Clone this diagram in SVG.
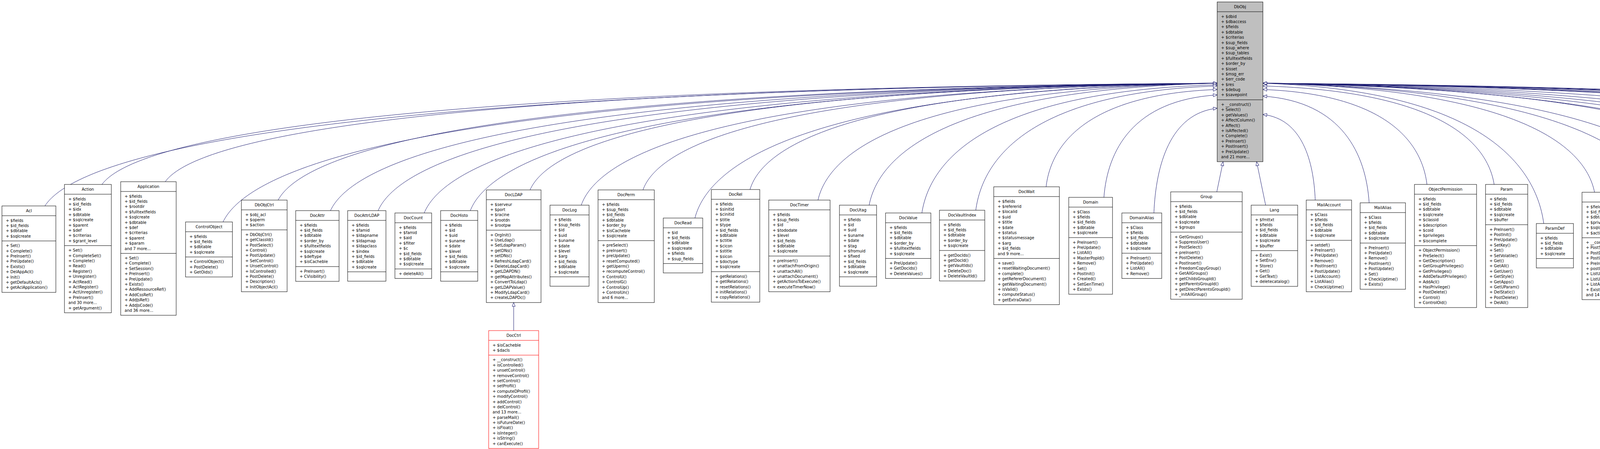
<svg xmlns="http://www.w3.org/2000/svg" width="6320" height="1149" viewBox="0 0 6320 1149">
<style>
.b{fill:#fff;stroke:#000;stroke-width:1}
.r{fill:#fff;stroke:#f00;stroke-width:1}
.g{fill:#bfbfbf;stroke:#000;stroke-width:1}
.s{stroke:#000;stroke-width:1;fill:none}
.sr{stroke:#f00;stroke-width:1;fill:none}
text{font-family:"DejaVu Sans","Liberation Sans",sans-serif;font-size:10px;fill:#000}
.t{text-anchor:middle}
.e{fill:none;stroke:#191970;stroke-width:1;marker-end:url(#a)}
</style>
<defs><marker id="a" markerUnits="userSpaceOnUse" markerWidth="12" markerHeight="9" refX="11" refY="4.5" orient="auto"><path d="M1,0.5 L11,4.5 L1,8.5 Z" fill="#fff" stroke="#191970"/></marker></defs>
<rect width="6320" height="1149" fill="#fff"/>
<g id="connectors">
<path class="e" d="M115,527 C205,386 865,229 3116,213"/>
<path class="e" d="M261,472 C347,355 975,226 3116,213"/>
<path class="e" d="M423,465 C504,352 1096,226 3116,213"/>
<path class="e" d="M571,568 C647,408 1207,231 3116,213"/>
<path class="e" d="M712,512 C784,377 1313,228 3116,213"/>
<path class="e" d="M846,539 C914,392 1414,229 3116,213"/>
<path class="e" d="M968,539 C1032,392 1505,229 3116,213"/>
<path class="e" d="M1086,545 C1147,396 1594,230 3116,213"/>
<path class="e" d="M1204,539 C1261,392 1682,229 3116,213"/>
<path class="e" d="M1357,486 C1410,363 1797,227 3116,213"/>
<path class="e" d="M1488,525 C1537,385 1895,229 3116,213"/>
<path class="e" d="M1646,486 C1690,363 2014,227 3116,213"/>
<path class="e" d="M1779,558 C1819,403 2113,230 3116,213"/>
<path class="e" d="M1920,485 C1956,363 2219,227 3116,213"/>
<path class="e" d="M2094,512 C2125,377 2350,228 3116,213"/>
<path class="e" d="M2225,525 C2252,385 2448,229 3116,213"/>
<path class="e" d="M2360,545 C2383,397 2549,233 3116,217"/>
<path class="e" d="M2498,538 C2517,395 2653,236 3116,220"/>
<path class="e" d="M2678,478 C2691,366 2788,241 3116,229"/>
<path class="e" d="M2826,505 C2835,387 2899,256 3116,243"/>
<path class="e" d="M2954,545 C2959,424 2995,290 3116,277"/>
<path class="e" d="M3115,491 L3131,414"/>
<path class="e" d="M3240,525 L3217,414"/>
<path class="e" d="M3367,512 C3363,413 3334,304 3233,293"/>
<path class="e" d="M3505,519 C3497,396 3437,260 3233,246"/>
<path class="e" d="M3653,472 C3640,363 3548,241 3233,229"/>
<path class="e" d="M3825,472 C3807,359 3677,233 3233,220"/>
<path class="e" d="M3952,572 C3930,410 3772,231 3233,213"/>
<path class="e" d="M4082,492 C4057,366 3870,227 3233,213"/>
<path class="e" d="M4255,532 C4224,388 3999,229 3233,213"/>
<path class="e" d="M4382,552 C4348,399 4095,230 3233,213"/>
<path class="e" d="M4522,485 C4483,363 4200,227 3233,213"/>
<path class="e" d="M4683,559 C4640,403 4321,230 3233,213"/>
<path class="e" d="M4811,565 C4764,407 4417,231 3233,213"/>
<path class="e" d="M4930,565 C4879,407 4506,231 3233,213"/>
<path class="e" d="M5060,559 C5005,403 4603,230 3233,213"/>
<path class="e" d="M5199,532 C5140,388 4708,229 3233,213"/>
<path class="e" d="M5328,486 C5265,363 4804,227 3233,213"/>
<path class="e" d="M5482,505 C5415,374 4920,228 3233,213"/>
<path class="e" d="M5627,519 C5555,381 5029,228 3233,213"/>
<path class="e" d="M5777,505 C5701,374 5141,228 3233,213"/>
<path class="e" d="M5928,479 C5847,359 5254,226 3233,213"/>
<path class="e" d="M6086,545 C6000,396 5373,230 3233,213"/>
<path class="e" d="M6253,559 C6162,403 5498,230 3233,213"/>
<path class="e" d="M1315,846 L1315,774"/>
<path class="e" d="M5528,958 L5620,740"/>
<path class="e" d="M5665,958 L5665,740"/>
<path class="e" d="M5816,958 L5815,753"/>
</g>

<g id="DbObj" transform="translate(3116,5)"><rect class="g" width="117" height="408.8"/><path class="s" d="M0,25H117M0,250.4H117"/><text class="t" x="58.5" y="16">DbObj</text>
<text y="40.5"><tspan x="10">+ $dbid</tspan><tspan x="10" dy="13.4">+ $dbaccess</tspan><tspan x="10" dy="13.4">+ $fields</tspan><tspan x="10" dy="13.4">+ $dbtable</tspan><tspan x="10" dy="13.4">+ $criterias</tspan><tspan x="10" dy="13.4">+ $sup_fields</tspan><tspan x="10" dy="13.4">+ $sup_where</tspan><tspan x="10" dy="13.4">+ $sup_tables</tspan><tspan x="10" dy="13.4">+ $fulltextfields</tspan><tspan x="10" dy="13.4">+ $order_by</tspan><tspan x="10" dy="13.4">+ $isset</tspan><tspan x="10" dy="13.4">+ $msg_err</tspan><tspan x="10" dy="13.4">+ $err_code</tspan><tspan x="10" dy="13.4">+ $res</tspan><tspan x="10" dy="13.4">+ $debug</tspan><tspan x="10" dy="13.4">+ $savepoint</tspan></text>
<text y="265.9"><tspan x="10">+ __construct()</tspan><tspan x="10" dy="13.4">+ Select()</tspan><tspan x="10" dy="13.4">+ getValues()</tspan><tspan x="10" dy="13.4">+ AffectColumn()</tspan><tspan x="10" dy="13.4">+ Affect()</tspan><tspan x="10" dy="13.4">+ isAffected()</tspan><tspan x="10" dy="13.4">+ Complete()</tspan><tspan x="10" dy="13.4">+ PreInsert()</tspan><tspan x="10" dy="13.4">+ PostInsert()</tspan><tspan x="10" dy="13.4">+ PreUpdate()</tspan><tspan x="10" dy="13.4">and 21 more...</tspan></text></g>

<g id="Acl" transform="translate(5,527)"><rect class="b" width="138" height="221.2"/><path class="s" d="M0,25H138M0,89.6H138"/><text class="t" x="69" y="16">Acl</text>
<text y="40.5"><tspan x="10">+ $fields</tspan><tspan x="10" dy="13.4">+ $id_fields</tspan><tspan x="10" dy="13.4">+ $dbtable</tspan><tspan x="10" dy="13.4">+ $sqlcreate</tspan></text>
<text y="105.1"><tspan x="10">+ Set()</tspan><tspan x="10" dy="13.4">+ Complete()</tspan><tspan x="10" dy="13.4">+ PreInsert()</tspan><tspan x="10" dy="13.4">+ PreUpdate()</tspan><tspan x="10" dy="13.4">+ Exists()</tspan><tspan x="10" dy="13.4">+ DelAppAcl()</tspan><tspan x="10" dy="13.4">+ Init()</tspan><tspan x="10" dy="13.4">+ getDefaultAcls()</tspan><tspan x="10" dy="13.4">+ getAclApplication()</tspan></text></g>

<g id="Action" transform="translate(165,472)"><rect class="b" width="120" height="328.4"/><path class="s" d="M0,25H120M0,156.6H120"/><text class="t" x="60" y="16">Action</text>
<text y="40.5"><tspan x="10">+ $fields</tspan><tspan x="10" dy="13.4">+ $id_fields</tspan><tspan x="10" dy="13.4">+ $idx</tspan><tspan x="10" dy="13.4">+ $dbtable</tspan><tspan x="10" dy="13.4">+ $sqlcreate</tspan><tspan x="10" dy="13.4">+ $parent</tspan><tspan x="10" dy="13.4">+ $def</tspan><tspan x="10" dy="13.4">+ $criterias</tspan><tspan x="10" dy="13.4">+ $grant_level</tspan></text>
<text y="172.1"><tspan x="10">+ Set()</tspan><tspan x="10" dy="13.4">+ CompleteSet()</tspan><tspan x="10" dy="13.4">+ Complete()</tspan><tspan x="10" dy="13.4">+ Read()</tspan><tspan x="10" dy="13.4">+ Register()</tspan><tspan x="10" dy="13.4">+ Unregister()</tspan><tspan x="10" dy="13.4">+ ActRead()</tspan><tspan x="10" dy="13.4">+ ActRegister()</tspan><tspan x="10" dy="13.4">+ ActUnregister()</tspan><tspan x="10" dy="13.4">+ PreInsert()</tspan><tspan x="10" dy="13.4">and 30 more...</tspan><tspan x="10" dy="13.4">+ getArgument()</tspan></text></g>

<g id="Application" transform="translate(309,465)"><rect class="b" width="142" height="341.8"/><path class="s" d="M0,25H142M0,183.4H142"/><text class="t" x="71" y="16">Application</text>
<text y="40.5"><tspan x="10">+ $fields</tspan><tspan x="10" dy="13.4">+ $id_fields</tspan><tspan x="10" dy="13.4">+ $rootdir</tspan><tspan x="10" dy="13.4">+ $fulltextfields</tspan><tspan x="10" dy="13.4">+ $sqlcreate</tspan><tspan x="10" dy="13.4">+ $dbtable</tspan><tspan x="10" dy="13.4">+ $def</tspan><tspan x="10" dy="13.4">+ $criterias</tspan><tspan x="10" dy="13.4">+ $parent</tspan><tspan x="10" dy="13.4">+ $param</tspan><tspan x="10" dy="13.4">and 7 more...</tspan></text>
<text y="198.9"><tspan x="10">+ Set()</tspan><tspan x="10" dy="13.4">+ Complete()</tspan><tspan x="10" dy="13.4">+ SetSession()</tspan><tspan x="10" dy="13.4">+ PreInsert()</tspan><tspan x="10" dy="13.4">+ PreUpdate()</tspan><tspan x="10" dy="13.4">+ Exists()</tspan><tspan x="10" dy="13.4">+ AddRessourceRef()</tspan><tspan x="10" dy="13.4">+ AddCssRef()</tspan><tspan x="10" dy="13.4">+ AddJsRef()</tspan><tspan x="10" dy="13.4">+ AddJsCode()</tspan><tspan x="10" dy="13.4">and 36 more...</tspan></text></g>

<g id="ControlObject" transform="translate(475,568)"><rect class="b" width="120" height="140.8"/><path class="s" d="M0,25H120M0,89.6H120"/><text class="t" x="60" y="16">ControlObject</text>
<text y="40.5"><tspan x="10">+ $fields</tspan><tspan x="10" dy="13.4">+ $id_fields</tspan><tspan x="10" dy="13.4">+ $dbtable</tspan><tspan x="10" dy="13.4">+ $sqlcreate</tspan></text>
<text y="105.1"><tspan x="10">+ ControlObject()</tspan><tspan x="10" dy="13.4">+ PostDelete()</tspan><tspan x="10" dy="13.4">+ GetOids()</tspan></text></g>

<g id="DbObjCtrl" transform="translate(618,512)"><rect class="b" width="117" height="234.6"/><path class="s" d="M0,25H117M0,76.2H117"/><text class="t" x="58.5" y="16">DbObjCtrl</text>
<text y="40.5"><tspan x="10">+ $obj_acl</tspan><tspan x="10" dy="13.4">+ $operm</tspan><tspan x="10" dy="13.4">+ $action</tspan></text>
<text y="91.7"><tspan x="10">+ DbObjCtrl()</tspan><tspan x="10" dy="13.4">+ getClassId()</tspan><tspan x="10" dy="13.4">+ PostSelect()</tspan><tspan x="10" dy="13.4">+ Control()</tspan><tspan x="10" dy="13.4">+ PostUpdate()</tspan><tspan x="10" dy="13.4">+ SetControl()</tspan><tspan x="10" dy="13.4">+ UnsetControl()</tspan><tspan x="10" dy="13.4">+ IsControlled()</tspan><tspan x="10" dy="13.4">+ PostDelete()</tspan><tspan x="10" dy="13.4">+ Description()</tspan><tspan x="10" dy="13.4">+ InitObjectAcl()</tspan></text></g>

<g id="DocAttr" transform="translate(757,539)"><rect class="b" width="111" height="181"/><path class="s" d="M0,25H111M0,143.2H111"/><text class="t" x="55.5" y="16">DocAttr</text>
<text y="40.5"><tspan x="10">+ $fields</tspan><tspan x="10" dy="13.4">+ $id_fields</tspan><tspan x="10" dy="13.4">+ $dbtable</tspan><tspan x="10" dy="13.4">+ $order_by</tspan><tspan x="10" dy="13.4">+ $fulltextfields</tspan><tspan x="10" dy="13.4">+ $sqlcreate</tspan><tspan x="10" dy="13.4">+ $deftype</tspan><tspan x="10" dy="13.4">+ $isCacheble</tspan></text>
<text y="158.7"><tspan x="10">+ PreInsert()</tspan><tspan x="10" dy="13.4">+ CVisibility()</tspan></text></g>

<g id="DocAttrLDAP" transform="translate(890,539)"><rect class="b" width="98" height="180.6"/><path class="s" d="M0,25H98M0,156.6H98"/><text class="t" x="49" y="16">DocAttrLDAP</text>
<text y="40.5"><tspan x="10">+ $fields</tspan><tspan x="10" dy="13.4">+ $famid</tspan><tspan x="10" dy="13.4">+ $ldapname</tspan><tspan x="10" dy="13.4">+ $ldapmap</tspan><tspan x="10" dy="13.4">+ $ldapclass</tspan><tspan x="10" dy="13.4">+ $index</tspan><tspan x="10" dy="13.4">+ $id_fields</tspan><tspan x="10" dy="13.4">+ $dbtable</tspan><tspan x="10" dy="13.4">+ $sqlcreate</tspan></text></g>

<g id="DocCount" transform="translate(1011,545)"><rect class="b" width="94" height="167.6"/><path class="s" d="M0,25H94M0,143.2H94"/><text class="t" x="47" y="16">DocCount</text>
<text y="40.5"><tspan x="10">+ $fields</tspan><tspan x="10" dy="13.4">+ $famid</tspan><tspan x="10" dy="13.4">+ $aid</tspan><tspan x="10" dy="13.4">+ $filter</tspan><tspan x="10" dy="13.4">+ $c</tspan><tspan x="10" dy="13.4">+ $id_fields</tspan><tspan x="10" dy="13.4">+ $dbtable</tspan><tspan x="10" dy="13.4">+ $sqlcreate</tspan></text>
<text y="158.7"><tspan x="10">+ deleteAll()</tspan></text></g>

<g id="DocHisto" transform="translate(1128,539)"><rect class="b" width="95" height="180.6"/><path class="s" d="M0,25H95M0,156.6H95"/><text class="t" x="47.5" y="16">DocHisto</text>
<text y="40.5"><tspan x="10">+ $fields</tspan><tspan x="10" dy="13.4">+ $id</tspan><tspan x="10" dy="13.4">+ $uid</tspan><tspan x="10" dy="13.4">+ $uname</tspan><tspan x="10" dy="13.4">+ $date</tspan><tspan x="10" dy="13.4">+ $level</tspan><tspan x="10" dy="13.4">+ $id_fields</tspan><tspan x="10" dy="13.4">+ $dbtable</tspan><tspan x="10" dy="13.4">+ $sqlcreate</tspan></text></g>

<g id="DocLDAP" transform="translate(1245,486)"><rect class="b" width="140" height="288.2"/><path class="s" d="M0,25H140M0,103H140"/><text class="t" x="70" y="16">DocLDAP</text>
<text y="40.5"><tspan x="10">+ $serveur</tspan><tspan x="10" dy="13.4">+ $port</tspan><tspan x="10" dy="13.4">+ $racine</tspan><tspan x="10" dy="13.4">+ $rootdn</tspan><tspan x="10" dy="13.4">+ $rootpw</tspan></text>
<text y="118.5"><tspan x="10">+ OrgInit()</tspan><tspan x="10" dy="13.4">+ UseLdap()</tspan><tspan x="10" dy="13.4">+ SetLdapParam()</tspan><tspan x="10" dy="13.4">+ getDNs()</tspan><tspan x="10" dy="13.4">+ setDNs()</tspan><tspan x="10" dy="13.4">+ RefreshLdapCard()</tspan><tspan x="10" dy="13.4">+ DeleteLdapCard()</tspan><tspan x="10" dy="13.4">+ getLDAPDN()</tspan><tspan x="10" dy="13.4">+ getMapAttributes()</tspan><tspan x="10" dy="13.4">+ ConvertToLdap()</tspan><tspan x="10" dy="13.4">+ getLDAPValue()</tspan><tspan x="10" dy="13.4">+ ModifyLdapCard()</tspan><tspan x="10" dy="13.4">+ createLDAPDc()</tspan></text></g>

<g id="DocCtrl" transform="translate(1251,846)"><rect class="r" width="128" height="301.6"/><path class="sr" d="M0,25H128M0,62.8H128"/><text class="t" x="64" y="16">DocCtrl</text>
<text y="40.5"><tspan x="10">+ $isCacheble</tspan><tspan x="10" dy="13.4">+ $dacls</tspan></text>
<text y="78.3"><tspan x="10">+ __construct()</tspan><tspan x="10" dy="13.4">+ isControlled()</tspan><tspan x="10" dy="13.4">+ unsetControl()</tspan><tspan x="10" dy="13.4">+ removeControl()</tspan><tspan x="10" dy="13.4">+ setControl()</tspan><tspan x="10" dy="13.4">+ setProfil()</tspan><tspan x="10" dy="13.4">+ computeDProfil()</tspan><tspan x="10" dy="13.4">+ modifyControl()</tspan><tspan x="10" dy="13.4">+ addControl()</tspan><tspan x="10" dy="13.4">+ delControl()</tspan><tspan x="10" dy="13.4">and 13 more...</tspan><tspan x="10" dy="13.4">+ parseMail()</tspan><tspan x="10" dy="13.4">+ isFutureDate()</tspan><tspan x="10" dy="13.4">+ isFloat()</tspan><tspan x="10" dy="13.4">+ isInteger()</tspan><tspan x="10" dy="13.4">+ isString()</tspan><tspan x="10" dy="13.4">+ canExecute()</tspan></text></g>

<g id="DocLog" transform="translate(1408,525)"><rect class="b" width="100" height="207.4"/><path class="s" d="M0,25H100M0,183.4H100"/><text class="t" x="50" y="16">DocLog</text>
<text y="40.5"><tspan x="10">+ $fields</tspan><tspan x="10" dy="13.4">+ $sup_fields</tspan><tspan x="10" dy="13.4">+ $id</tspan><tspan x="10" dy="13.4">+ $uid</tspan><tspan x="10" dy="13.4">+ $uname</tspan><tspan x="10" dy="13.4">+ $date</tspan><tspan x="10" dy="13.4">+ $level</tspan><tspan x="10" dy="13.4">+ $arg</tspan><tspan x="10" dy="13.4">+ $id_fields</tspan><tspan x="10" dy="13.4">+ $dbtable</tspan><tspan x="10" dy="13.4">+ $sqlcreate</tspan></text></g>

<g id="DocPerm" transform="translate(1531,486)"><rect class="b" width="144" height="288.2"/><path class="s" d="M0,25H144M0,129.8H144"/><text class="t" x="72" y="16">DocPerm</text>
<text y="40.5"><tspan x="10">+ $fields</tspan><tspan x="10" dy="13.4">+ $sup_fields</tspan><tspan x="10" dy="13.4">+ $id_fields</tspan><tspan x="10" dy="13.4">+ $dbtable</tspan><tspan x="10" dy="13.4">+ $order_by</tspan><tspan x="10" dy="13.4">+ $isCacheble</tspan><tspan x="10" dy="13.4">+ $sqlcreate</tspan></text>
<text y="145.3"><tspan x="10">+ preSelect()</tspan><tspan x="10" dy="13.4">+ preInsert()</tspan><tspan x="10" dy="13.4">+ preUpdate()</tspan><tspan x="10" dy="13.4">+ resetComputed()</tspan><tspan x="10" dy="13.4">+ getUperm()</tspan><tspan x="10" dy="13.4">+ recomputeControl()</tspan><tspan x="10" dy="13.4">+ ControlU()</tspan><tspan x="10" dy="13.4">+ ControlG()</tspan><tspan x="10" dy="13.4">+ ControlUp()</tspan><tspan x="10" dy="13.4">+ ControlUn()</tspan><tspan x="10" dy="13.4">and 6 more...</tspan></text></g>

<g id="DocRead" transform="translate(1698,558)"><rect class="b" width="101" height="140.4"/><path class="s" d="M0,25H101M0,116.4H101"/><text class="t" x="50.5" y="16">DocRead</text>
<text y="40.5"><tspan x="10">+ $id</tspan><tspan x="10" dy="13.4">+ $id_fields</tspan><tspan x="10" dy="13.4">+ $dbtable</tspan><tspan x="10" dy="13.4">+ $sqlcreate</tspan><tspan x="10" dy="13.4">+ $fields</tspan><tspan x="10" dy="13.4">+ $sup_fields</tspan></text></g>

<g id="DocRel" transform="translate(1821,485)"><rect class="b" width="124" height="288.2"/><path class="s" d="M0,25H124M0,210.2H124"/><text class="t" x="62" y="16">DocRel</text>
<text y="40.5"><tspan x="10">+ $fields</tspan><tspan x="10" dy="13.4">+ $sinitid</tspan><tspan x="10" dy="13.4">+ $cinitid</tspan><tspan x="10" dy="13.4">+ $title</tspan><tspan x="10" dy="13.4">+ $type</tspan><tspan x="10" dy="13.4">+ $id_fields</tspan><tspan x="10" dy="13.4">+ $dbtable</tspan><tspan x="10" dy="13.4">+ $ctitle</tspan><tspan x="10" dy="13.4">+ $cicon</tspan><tspan x="10" dy="13.4">+ $stitle</tspan><tspan x="10" dy="13.4">+ $sicon</tspan><tspan x="10" dy="13.4">+ $doctype</tspan><tspan x="10" dy="13.4">+ $sqlcreate</tspan></text>
<text y="225.7"><tspan x="10">+ getRelations()</tspan><tspan x="10" dy="13.4">+ getIRelations()</tspan><tspan x="10" dy="13.4">+ resetRelations()</tspan><tspan x="10" dy="13.4">+ initRelations()</tspan><tspan x="10" dy="13.4">+ copyRelations()</tspan></text></g>

<g id="DocTimer" transform="translate(1968,512)"><rect class="b" width="157" height="234.6"/><path class="s" d="M0,25H157M0,143.2H157"/><text class="t" x="78.5" y="16">DocTimer</text>
<text y="40.5"><tspan x="10">+ $fields</tspan><tspan x="10" dy="13.4">+ $sup_fields</tspan><tspan x="10" dy="13.4">+ $id</tspan><tspan x="10" dy="13.4">+ $tododate</tspan><tspan x="10" dy="13.4">+ $level</tspan><tspan x="10" dy="13.4">+ $id_fields</tspan><tspan x="10" dy="13.4">+ $dbtable</tspan><tspan x="10" dy="13.4">+ $sqlcreate</tspan></text>
<text y="158.7"><tspan x="10">+ preInsert()</tspan><tspan x="10" dy="13.4">+ unattachFromOrigin()</tspan><tspan x="10" dy="13.4">+ unattachAll()</tspan><tspan x="10" dy="13.4">+ unattachDocument()</tspan><tspan x="10" dy="13.4">+ getActionsToExecute()</tspan><tspan x="10" dy="13.4">+ executeTimerNow()</tspan></text></g>

<g id="DocUtag" transform="translate(2149,525)"><rect class="b" width="95" height="207.4"/><path class="s" d="M0,25H95M0,183.4H95"/><text class="t" x="47.5" y="16">DocUtag</text>
<text y="40.5"><tspan x="10">+ $fields</tspan><tspan x="10" dy="13.4">+ $id</tspan><tspan x="10" dy="13.4">+ $uid</tspan><tspan x="10" dy="13.4">+ $uname</tspan><tspan x="10" dy="13.4">+ $date</tspan><tspan x="10" dy="13.4">+ $tag</tspan><tspan x="10" dy="13.4">+ $fromuid</tspan><tspan x="10" dy="13.4">+ $fixed</tspan><tspan x="10" dy="13.4">+ $id_fields</tspan><tspan x="10" dy="13.4">+ $dbtable</tspan><tspan x="10" dy="13.4">+ $sqlcreate</tspan></text></g>

<g id="DocValue" transform="translate(2267,545)"><rect class="b" width="116" height="167.6"/><path class="s" d="M0,25H116M0,116.4H116"/><text class="t" x="58" y="16">DocValue</text>
<text y="40.5"><tspan x="10">+ $fields</tspan><tspan x="10" dy="13.4">+ $id_fields</tspan><tspan x="10" dy="13.4">+ $dbtable</tspan><tspan x="10" dy="13.4">+ $order_by</tspan><tspan x="10" dy="13.4">+ $fulltextfields</tspan><tspan x="10" dy="13.4">+ $sqlcreate</tspan></text>
<text y="131.9"><tspan x="10">+ PreUpdate()</tspan><tspan x="10" dy="13.4">+ GetDocids()</tspan><tspan x="10" dy="13.4">+ DeleteValues()</tspan></text></g>

<g id="DocVaultIndex" transform="translate(2405,538)"><rect class="b" width="116" height="181"/><path class="s" d="M0,25H116M0,103H116"/><text class="t" x="58" y="16">DocVaultIndex</text>
<text y="40.5"><tspan x="10">+ $fields</tspan><tspan x="10" dy="13.4">+ $id_fields</tspan><tspan x="10" dy="13.4">+ $dbtable</tspan><tspan x="10" dy="13.4">+ $order_by</tspan><tspan x="10" dy="13.4">+ $sqlcreate</tspan></text>
<text y="118.5"><tspan x="10">+ getDocIds()</tspan><tspan x="10" dy="13.4">+ getDocId()</tspan><tspan x="10" dy="13.4">+ getVaultIds()</tspan><tspan x="10" dy="13.4">+ DeleteDoc()</tspan><tspan x="10" dy="13.4">+ DeleteVaultId()</tspan></text></g>

<g id="DocWait" transform="translate(2544,478)"><rect class="b" width="168" height="301.6"/><path class="s" d="M0,25H168M0,183.4H168"/><text class="t" x="84" y="16">DocWait</text>
<text y="40.5"><tspan x="10">+ $fields</tspan><tspan x="10" dy="13.4">+ $refererid</tspan><tspan x="10" dy="13.4">+ $localid</tspan><tspan x="10" dy="13.4">+ $uid</tspan><tspan x="10" dy="13.4">+ $title</tspan><tspan x="10" dy="13.4">+ $date</tspan><tspan x="10" dy="13.4">+ $status</tspan><tspan x="10" dy="13.4">+ $statusmessage</tspan><tspan x="10" dy="13.4">+ $arg</tspan><tspan x="10" dy="13.4">+ $id_fields</tspan><tspan x="10" dy="13.4">and 9 more...</tspan></text>
<text y="198.9"><tspan x="10">+ save()</tspan><tspan x="10" dy="13.4">+ resetWaitingDocument()</tspan><tspan x="10" dy="13.4">+ complete()</tspan><tspan x="10" dy="13.4">+ getRefererDocument()</tspan><tspan x="10" dy="13.4">+ getWaitingDocument()</tspan><tspan x="10" dy="13.4">+ isValid()</tspan><tspan x="10" dy="13.4">+ computeStatus()</tspan><tspan x="10" dy="13.4">+ getExtraData()</tspan></text></g>

<g id="Domain" transform="translate(2736,505)"><rect class="b" width="112" height="248"/><path class="s" d="M0,25H112M0,103H112"/><text class="t" x="56" y="16">Domain</text>
<text y="40.5"><tspan x="10">+ $Class</tspan><tspan x="10" dy="13.4">+ $fields</tspan><tspan x="10" dy="13.4">+ $id_fields</tspan><tspan x="10" dy="13.4">+ $dbtable</tspan><tspan x="10" dy="13.4">+ $sqlcreate</tspan></text>
<text y="118.5"><tspan x="10">+ PreInsert()</tspan><tspan x="10" dy="13.4">+ PreUpdate()</tspan><tspan x="10" dy="13.4">+ ListAll()</tspan><tspan x="10" dy="13.4">+ MasterPopId()</tspan><tspan x="10" dy="13.4">+ Remove()</tspan><tspan x="10" dy="13.4">+ Set()</tspan><tspan x="10" dy="13.4">+ PostInit()</tspan><tspan x="10" dy="13.4">+ Created()</tspan><tspan x="10" dy="13.4">+ SetGenTime()</tspan><tspan x="10" dy="13.4">+ Exists()</tspan></text></g>

<g id="DomainAlias" transform="translate(2872,545)"><rect class="b" width="102" height="167.6"/><path class="s" d="M0,25H102M0,103H102"/><text class="t" x="51" y="16">DomainAlias</text>
<text y="40.5"><tspan x="10">+ $Class</tspan><tspan x="10" dy="13.4">+ $fields</tspan><tspan x="10" dy="13.4">+ $id_fields</tspan><tspan x="10" dy="13.4">+ $dbtable</tspan><tspan x="10" dy="13.4">+ $sqlcreate</tspan></text>
<text y="118.5"><tspan x="10">+ PreInsert()</tspan><tspan x="10" dy="13.4">+ PreUpdate()</tspan><tspan x="10" dy="13.4">+ ListAll()</tspan><tspan x="10" dy="13.4">+ Remove()</tspan></text></g>

<g id="Group" transform="translate(2997,491)"><rect class="b" width="183" height="274.8"/><path class="s" d="M0,25H183M0,103H183"/><text class="t" x="91.5" y="16">Group</text>
<text y="40.5"><tspan x="10">+ $fields</tspan><tspan x="10" dy="13.4">+ $id_fields</tspan><tspan x="10" dy="13.4">+ $dbtable</tspan><tspan x="10" dy="13.4">+ $sqlcreate</tspan><tspan x="10" dy="13.4">+ $groups</tspan></text>
<text y="118.5"><tspan x="10">+ GetGroups()</tspan><tspan x="10" dy="13.4">+ SuppressUser()</tspan><tspan x="10" dy="13.4">+ PostSelect()</tspan><tspan x="10" dy="13.4">+ preInsert()</tspan><tspan x="10" dy="13.4">+ PostDelete()</tspan><tspan x="10" dy="13.4">+ PostInsert()</tspan><tspan x="10" dy="13.4">+ FreedomCopyGroup()</tspan><tspan x="10" dy="13.4">+ GetAllGroups()</tspan><tspan x="10" dy="13.4">+ getChildsGroupId()</tspan><tspan x="10" dy="13.4">+ getParentsGroupId()</tspan><tspan x="10" dy="13.4">+ getDirectParentsGroupId()</tspan><tspan x="10" dy="13.4">+ _initAllGroup()</tspan></text></g>

<g id="Lang" transform="translate(3203,525)"><rect class="b" width="119" height="207.8"/><path class="s" d="M0,25H119M0,116.4H119"/><text class="t" x="59.5" y="16">Lang</text>
<text y="40.5"><tspan x="10">+ $fmttxt</tspan><tspan x="10" dy="13.4">+ $fields</tspan><tspan x="10" dy="13.4">+ $id_fields</tspan><tspan x="10" dy="13.4">+ $dbtable</tspan><tspan x="10" dy="13.4">+ $sqlcreate</tspan><tspan x="10" dy="13.4">+ $buffer</tspan></text>
<text y="131.9"><tspan x="10">+ Exist()</tspan><tspan x="10" dy="13.4">+ SetEnv()</tspan><tspan x="10" dy="13.4">+ Store()</tspan><tspan x="10" dy="13.4">+ Get()</tspan><tspan x="10" dy="13.4">+ GetText()</tspan><tspan x="10" dy="13.4">+ deletecatalog()</tspan></text></g>

<g id="MailAccount" transform="translate(3344,512)"><rect class="b" width="116" height="234.6"/><path class="s" d="M0,25H116M0,103H116"/><text class="t" x="58" y="16">MailAccount</text>
<text y="40.5"><tspan x="10">+ $Class</tspan><tspan x="10" dy="13.4">+ $fields</tspan><tspan x="10" dy="13.4">+ $id_fields</tspan><tspan x="10" dy="13.4">+ $dbtable</tspan><tspan x="10" dy="13.4">+ $sqlcreate</tspan></text>
<text y="118.5"><tspan x="10">+ setdef()</tspan><tspan x="10" dy="13.4">+ PreInsert()</tspan><tspan x="10" dy="13.4">+ PreUpdate()</tspan><tspan x="10" dy="13.4">+ Remove()</tspan><tspan x="10" dy="13.4">+ PostInsert()</tspan><tspan x="10" dy="13.4">+ PostUpdate()</tspan><tspan x="10" dy="13.4">+ ListAccount()</tspan><tspan x="10" dy="13.4">+ ListAlias()</tspan><tspan x="10" dy="13.4">+ CheckUptime()</tspan></text></g>

<g id="MailAlias" transform="translate(3482,519)"><rect class="b" width="116" height="221.2"/><path class="s" d="M0,25H116M0,103H116"/><text class="t" x="58" y="16">MailAlias</text>
<text y="40.5"><tspan x="10">+ $Class</tspan><tspan x="10" dy="13.4">+ $fields</tspan><tspan x="10" dy="13.4">+ $id_fields</tspan><tspan x="10" dy="13.4">+ $dbtable</tspan><tspan x="10" dy="13.4">+ $sqlcreate</tspan></text>
<text y="118.5"><tspan x="10">+ PreInsert()</tspan><tspan x="10" dy="13.4">+ PreUpdate()</tspan><tspan x="10" dy="13.4">+ Remove()</tspan><tspan x="10" dy="13.4">+ PostInsert()</tspan><tspan x="10" dy="13.4">+ PostUpdate()</tspan><tspan x="10" dy="13.4">+ Set()</tspan><tspan x="10" dy="13.4">+ CheckUptime()</tspan><tspan x="10" dy="13.4">+ Exists()</tspan></text></g>

<g id="ObjectPermission" transform="translate(3621,472)"><rect class="b" width="159" height="315"/><path class="s" d="M0,25H159M0,156.6H159"/><text class="t" x="79.5" y="16">ObjectPermission</text>
<text y="40.5"><tspan x="10">+ $fields</tspan><tspan x="10" dy="13.4">+ $id_fields</tspan><tspan x="10" dy="13.4">+ $dbtable</tspan><tspan x="10" dy="13.4">+ $sqlcreate</tspan><tspan x="10" dy="13.4">+ $classid</tspan><tspan x="10" dy="13.4">+ $description</tspan><tspan x="10" dy="13.4">+ $coid</tspan><tspan x="10" dy="13.4">+ $privileges</tspan><tspan x="10" dy="13.4">+ $iscomplete</tspan></text>
<text y="172.1"><tspan x="10">+ ObjectPermission()</tspan><tspan x="10" dy="13.4">+ PreSelect()</tspan><tspan x="10" dy="13.4">+ GetDescription()</tspan><tspan x="10" dy="13.4">+ GetGroupPrivileges()</tspan><tspan x="10" dy="13.4">+ GetPrivileges()</tspan><tspan x="10" dy="13.4">+ AddDefaultPrivileges()</tspan><tspan x="10" dy="13.4">+ AddAcl()</tspan><tspan x="10" dy="13.4">+ HasPrivilege()</tspan><tspan x="10" dy="13.4">+ PostDelete()</tspan><tspan x="10" dy="13.4">+ Control()</tspan><tspan x="10" dy="13.4">+ ControlOid()</tspan></text></g>

<g id="Param" transform="translate(3803,472)"><rect class="b" width="108" height="315"/><path class="s" d="M0,25H108M0,103H108"/><text class="t" x="54" y="16">Param</text>
<text y="40.5"><tspan x="10">+ $fields</tspan><tspan x="10" dy="13.4">+ $id_fields</tspan><tspan x="10" dy="13.4">+ $dbtable</tspan><tspan x="10" dy="13.4">+ $sqlcreate</tspan><tspan x="10" dy="13.4">+ $buffer</tspan></text>
<text y="118.5"><tspan x="10">+ PreInsert()</tspan><tspan x="10" dy="13.4">+ PostInit()</tspan><tspan x="10" dy="13.4">+ PreUpdate()</tspan><tspan x="10" dy="13.4">+ SetKey()</tspan><tspan x="10" dy="13.4">+ Set()</tspan><tspan x="10" dy="13.4">+ SetVolatile()</tspan><tspan x="10" dy="13.4">+ Get()</tspan><tspan x="10" dy="13.4">+ GetAll()</tspan><tspan x="10" dy="13.4">+ GetUser()</tspan><tspan x="10" dy="13.4">+ GetStyle()</tspan><tspan x="10" dy="13.4">+ GetApps()</tspan><tspan x="10" dy="13.4">+ GetUParam()</tspan><tspan x="10" dy="13.4">+ DelStatic()</tspan><tspan x="10" dy="13.4">+ PostDelete()</tspan><tspan x="10" dy="13.4">+ DelAll()</tspan></text></g>

<g id="ParamDef" transform="translate(3933,572)"><rect class="b" width="95" height="113.6"/><path class="s" d="M0,25H95M0,89.6H95"/><text class="t" x="47.5" y="16">ParamDef</text>
<text y="40.5"><tspan x="10">+ $fields</tspan><tspan x="10" dy="13.4">+ $id_fields</tspan><tspan x="10" dy="13.4">+ $dbtable</tspan><tspan x="10" dy="13.4">+ $sqlcreate</tspan></text></g>

<g id="Permission" transform="translate(4050,492)"><rect class="b" width="161" height="274.8"/><path class="s" d="M0,25H161M0,116.4H161"/><text class="t" x="80.5" y="16">Permission</text>
<text y="40.5"><tspan x="10">+ $fields</tspan><tspan x="10" dy="13.4">+ $id_fields</tspan><tspan x="10" dy="13.4">+ $dbtable</tspan><tspan x="10" dy="13.4">+ $privileges</tspan><tspan x="10" dy="13.4">+ $sqlcreate</tspan><tspan x="10" dy="13.4">+ $actions</tspan></text>
<text y="131.9"><tspan x="10">+ __construct()</tspan><tspan x="10" dy="13.4">+ PostSelect()</tspan><tspan x="10" dy="13.4">+ PostDelete()</tspan><tspan x="10" dy="13.4">+ PostUpdate()</tspan><tspan x="10" dy="13.4">+ PreInsert()</tspan><tspan x="10" dy="13.4">+ postInsert()</tspan><tspan x="10" dy="13.4">+ ListUserPermissions()</tspan><tspan x="10" dy="13.4">+ ListUserApplications()</tspan><tspan x="10" dy="13.4">+ ListApplicationUsers()</tspan><tspan x="10" dy="13.4">+ Exists()</tspan><tspan x="10" dy="13.4">and 14 more...</tspan></text></g>

<g id="Pop" transform="translate(4235,532)"><rect class="b" width="101" height="194.4"/><path class="s" d="M0,25H101M0,103H101"/><text class="t" x="50.5" y="16">Pop</text>
<text y="40.5"><tspan x="10">+ $Class</tspan><tspan x="10" dy="13.4">+ $fields</tspan><tspan x="10" dy="13.4">+ $id_fields</tspan><tspan x="10" dy="13.4">+ $dbtable</tspan><tspan x="10" dy="13.4">+ $sqlcreate</tspan></text>
<text y="118.5"><tspan x="10">+ PreInsert()</tspan><tspan x="10" dy="13.4">+ PreUpdate()</tspan><tspan x="10" dy="13.4">+ GetMaster()</tspan><tspan x="10" dy="13.4">+ GetSlaves()</tspan><tspan x="10" dy="13.4">+ GetAll()</tspan><tspan x="10" dy="13.4">+ Set()</tspan></text></g>

<g id="QueryDir" transform="translate(4360,552)"><rect class="b" width="110" height="154.2"/><path class="s" d="M0,25H110M0,116.4H110"/><text class="t" x="55" y="16">QueryDir</text>
<text y="40.5"><tspan x="10">+ $fields</tspan><tspan x="10" dy="13.4">+ $id_fields</tspan><tspan x="10" dy="13.4">+ $dbtable</tspan><tspan x="10" dy="13.4">+ $order_by</tspan><tspan x="10" dy="13.4">+ $fulltextfields</tspan><tspan x="10" dy="13.4">+ $sqlcreate</tspan></text>
<text y="131.9"><tspan x="10">+ PreInsert()</tspan><tspan x="10" dy="13.4">+ Exists()</tspan></text></g>

<g id="Session" transform="translate(4493,485)"><rect class="b" width="144" height="288.2"/><path class="s" d="M0,25H144M0,129.8H144"/><text class="t" x="72" y="16">Session</text>
<text y="40.5"><tspan x="10">+ $fields</tspan><tspan x="10" dy="13.4">+ $id_fields</tspan><tspan x="10" dy="13.4">+ $dbtable</tspan><tspan x="10" dy="13.4">+ $sqlcreate</tspan><tspan x="10" dy="13.4">+ $isCacheble</tspan><tspan x="10" dy="13.4">+ $sessiondb</tspan><tspan x="10" dy="13.4">+ $session_name</tspan></text>
<text y="145.3"><tspan x="10">+ __construct()</tspan><tspan x="10" dy="13.4">+ Set()</tspan><tspan x="10" dy="13.4">+ setCookieSession()</tspan><tspan x="10" dy="13.4">+ Close()</tspan><tspan x="10" dy="13.4">+ CloseAll()</tspan><tspan x="10" dy="13.4">+ CloseUsers()</tspan><tspan x="10" dy="13.4">+ Open()</tspan><tspan x="10" dy="13.4">+ Register()</tspan><tspan x="10" dy="13.4">+ Read()</tspan><tspan x="10" dy="13.4">+ Unregister()</tspan><tspan x="10" dy="13.4">and 12 more...</tspan></text></g>

<g id="SessionCache" transform="translate(4661,559)"><rect class="b" width="108" height="140.8"/><path class="s" d="M0,25H108M0,103H108"/><text class="t" x="54" y="16">SessionCache</text>
<text y="40.5"><tspan x="10">+ $fields</tspan><tspan x="10" dy="13.4">+ $id_fields</tspan><tspan x="10" dy="13.4">+ $dbtable</tspan><tspan x="10" dy="13.4">+ $sqlcreate</tspan><tspan x="10" dy="13.4">+ $isCacheble</tspan></text>
<text y="118.5"><tspan x="10">+ __construct()</tspan><tspan x="10" dy="13.4">+ setTime()</tspan></text></g>

<g id="SessionConf" transform="translate(4792,565)"><rect class="b" width="95" height="127"/><path class="s" d="M0,25H95M0,103H95"/><text class="t" x="47.5" y="16">SessionConf</text>
<text y="40.5"><tspan x="10">+ $fields</tspan><tspan x="10" dy="13.4">+ $id_fields</tspan><tspan x="10" dy="13.4">+ $dbtable</tspan><tspan x="10" dy="13.4">+ $sqlcreate</tspan><tspan x="10" dy="13.4">+ $sqlinit</tspan></text></g>

<g id="SessionVar" transform="translate(4909,565)"><rect class="b" width="104" height="127"/><path class="s" d="M0,25H104M0,103H104"/><text class="t" x="52" y="16">SessionVar</text>
<text y="40.5"><tspan x="10">+ $fields</tspan><tspan x="10" dy="13.4">+ $id_fields</tspan><tspan x="10" dy="13.4">+ $dbtable</tspan><tspan x="10" dy="13.4">+ $sqlcreate</tspan><tspan x="10" dy="13.4">+ $isCacheble</tspan></text></g>

<g id="Style" transform="translate(5037,559)"><rect class="b" width="117" height="140.8"/><path class="s" d="M0,25H117M0,89.6H117"/><text class="t" x="58.5" y="16">Style</text>
<text y="40.5"><tspan x="10">+ $fields</tspan><tspan x="10" dy="13.4">+ $id_fields</tspan><tspan x="10" dy="13.4">+ $sqlcreate</tspan><tspan x="10" dy="13.4">+ $dbtable</tspan></text>
<text y="105.1"><tspan x="10">+ Set()</tspan><tspan x="10" dy="13.4">+ GetImageUrl()</tspan><tspan x="10" dy="13.4">+ GetLayoutFile()</tspan></text></g>

<g id="TaskRequest" transform="translate(5179,532)"><rect class="b" width="100" height="194"/><path class="s" d="M0,25H100M0,170H100"/><text class="t" x="50" y="16">TaskRequest</text>
<text y="40.5"><tspan x="10">+ $fields</tspan><tspan x="10" dy="13.4">+ $sup_fields</tspan><tspan x="10" dy="13.4">+ $tid</tspan><tspan x="10" dy="13.4">+ $uid</tspan><tspan x="10" dy="13.4">+ $uname</tspan><tspan x="10" dy="13.4">+ $date</tspan><tspan x="10" dy="13.4">+ $id_fields</tspan><tspan x="10" dy="13.4">+ $dbtable</tspan><tspan x="10" dy="13.4">+ $sqlcreate</tspan><tspan x="10" dy="13.4">+ SQL</tspan></text></g>

<g id="User" transform="translate(5301,486)"><rect class="b" width="135" height="288.2"/><path class="s" d="M0,25H135M0,116.4H135"/><text class="t" x="67.5" y="16">User</text>
<text y="40.5"><tspan x="10">+ $fields</tspan><tspan x="10" dy="13.4">+ $id_fields</tspan><tspan x="10" dy="13.4">+ $dbtable</tspan><tspan x="10" dy="13.4">+ $order_by</tspan><tspan x="10" dy="13.4">+ $fulltextfields</tspan><tspan x="10" dy="13.4">+ $sqlcreate</tspan></text>
<text y="131.9"><tspan x="10">+ SetLoginName()</tspan><tspan x="10" dy="13.4">+ setLogin()</tspan><tspan x="10" dy="13.4">+ setFid()</tspan><tspan x="10" dy="13.4">+ PreInsert()</tspan><tspan x="10" dy="13.4">+ PostInsert()</tspan><tspan x="10" dy="13.4">+ PostUpdate()</tspan><tspan x="10" dy="13.4">+ PreUpdate()</tspan><tspan x="10" dy="13.4">+ PostDelete()</tspan><tspan x="10" dy="13.4">+ CheckLogin()</tspan><tspan x="10" dy="13.4">+ SetUsers()</tspan><tspan x="10" dy="13.4">and 19 more...</tspan><tspan x="10" dy="13.4">+ getDisplayName()</tspan></text></g>

<g id="UserToken" transform="translate(5458,505)"><rect class="b" width="120" height="248"/><path class="s" d="M0,25H120M0,143.2H120"/><text class="t" x="60" y="16">UserToken</text>
<text y="40.5"><tspan x="10">+ $Class</tspan><tspan x="10" dy="13.4">+ $fields</tspan><tspan x="10" dy="13.4">+ $id_fields</tspan><tspan x="10" dy="13.4">+ $dbtable</tspan><tspan x="10" dy="13.4">+ $sqlcreate</tspan><tspan x="10" dy="13.4">+ $hAlg</tspan><tspan x="10" dy="13.4">+ $rndSize</tspan><tspan x="10" dy="13.4">+ $expiration</tspan></text>
<text y="158.7"><tspan x="10">+ setHAlg()</tspan><tspan x="10" dy="13.4">+ setRndSize()</tspan><tspan x="10" dy="13.4">+ setExpiration()</tspan><tspan x="10" dy="13.4">+ genToken()</tspan><tspan x="10" dy="13.4">+ getToken()</tspan><tspan x="10" dy="13.4">+ deleteExpired()</tspan><tspan x="10" dy="13.4">+ preUpdate()</tspan></text></g>

<g id="VaultDiskDir" transform="translate(5602,519)"><rect class="b" width="126" height="221.2"/><path class="s" d="M0,25H126M0,116.4H126"/><text class="t" x="63" y="16">VaultDiskDir</text>
<text y="40.5"><tspan x="10">+ $fields</tspan><tspan x="10" dy="13.4">+ $id_fields</tspan><tspan x="10" dy="13.4">+ $dbtable_tmpl</tspan><tspan x="10" dy="13.4">+ $order_by</tspan><tspan x="10" dy="13.4">+ $seq_tmpl</tspan><tspan x="10" dy="13.4">+ $sqlcreate_tmpl</tspan></text>
<text y="131.9"><tspan x="10">+ __construct()</tspan><tspan x="10" dy="13.4">+ nextdir()</tspan><tspan x="10" dy="13.4">+ SetFreeDir()</tspan><tspan x="10" dy="13.4">+ PreInsert()</tspan><tspan x="10" dy="13.4">+ Exists()</tspan><tspan x="10" dy="13.4">+ DelEntry()</tspan><tspan x="10" dy="13.4">+ FreeEntries()</tspan></text></g>

<g id="VaultDiskDirCache" transform="translate(5452,958)"><rect class="b" width="124" height="73.4"/><path class="s" d="M0,25H124M0,49H124"/><text class="t" x="62" y="16">VaultDiskDirCache</text>
<text y="64.5"><tspan x="10">+ __construct()</tspan></text></g>

<g id="VaultDiskDirStorage" transform="translate(5598,958)"><rect class="b" width="134" height="73.4"/><path class="s" d="M0,25H134M0,49H134"/><text class="t" x="67" y="16">VaultDiskDirStorage</text>
<text y="64.5"><tspan x="10">+ __construct()</tspan></text></g>

<g id="VaultDiskFs" transform="translate(5752,505)"><rect class="r" width="125" height="248"/><path class="sr" d="M0,25H125M0,116.4H125"/><text class="t" x="62.5" y="16">VaultDiskFs</text>
<text y="40.5"><tspan x="10">+ $fields</tspan><tspan x="10" dy="13.4">+ $id_fields</tspan><tspan x="10" dy="13.4">+ $dbtable_tmpl</tspan><tspan x="10" dy="13.4">+ $order_by</tspan><tspan x="10" dy="13.4">+ $seq_tmpl</tspan><tspan x="10" dy="13.4">+ $sqlcreate_tmpl</tspan></text>
<text y="131.9"><tspan x="10">+ __construct()</tspan><tspan x="10" dy="13.4">+ createArch()</tspan><tspan x="10" dy="13.4">+ PreInsert()</tspan><tspan x="10" dy="13.4">+ Exists()</tspan><tspan x="10" dy="13.4">+ SetFreeFs()</tspan><tspan x="10" dy="13.4">+ Show()</tspan><tspan x="10" dy="13.4">+ AddEntry()</tspan><tspan x="10" dy="13.4">+ DelEntry()</tspan><tspan x="10" dy="13.4">+ Stats()</tspan></text></g>

<g id="VaultDiskFsCache" transform="translate(5756,958)"><rect class="b" width="120" height="73.4"/><path class="s" d="M0,25H120M0,49H120"/><text class="t" x="60" y="16">VaultDiskFsCache</text>
<text y="64.5"><tspan x="10">+ __construct()</tspan></text></g>

<g id="VaultDiskStorage" transform="translate(5901,479)"><rect class="b" width="136" height="301.6"/><path class="s" d="M0,25H136M0,116.4H136"/><text class="t" x="68" y="16">VaultDiskStorage</text>
<text y="40.5"><tspan x="10">+ $fields</tspan><tspan x="10" dy="13.4">+ $id_fields</tspan><tspan x="10" dy="13.4">+ $dbtable</tspan><tspan x="10" dy="13.4">+ $seq</tspan><tspan x="10" dy="13.4">+ $sqlcreate</tspan><tspan x="10" dy="13.4">+ $storage</tspan></text>
<text y="131.9"><tspan x="10">+ __construct()</tspan><tspan x="10" dy="13.4">+ PreInsert()</tspan><tspan x="10" dy="13.4">+ fStat()</tspan><tspan x="10" dy="13.4">+ ListFiles()</tspan><tspan x="10" dy="13.4">+ Stats()</tspan><tspan x="10" dy="13.4">+ seems_utf8()</tspan><tspan x="10" dy="13.4">+ Store()</tspan><tspan x="10" dy="13.4">+ GetEngineObject()</tspan><tspan x="10" dy="13.4">+ Show()</tspan><tspan x="10" dy="13.4">+ getPath()</tspan><tspan x="10" dy="13.4">+ Destroy()</tspan><tspan x="10" dy="13.4">+ Save()</tspan><tspan x="10" dy="13.4">+ resetTEFiles()</tspan></text></g>

<g id="VaultEngine" transform="translate(6061,545)"><rect class="b" width="126" height="167.6"/><path class="s" d="M0,25H126M0,143.2H126"/><text class="t" x="63" y="16">VaultEngine</text>
<text y="40.5"><tspan x="10">+ $fields</tspan><tspan x="10" dy="13.4">+ $name</tspan><tspan x="10" dy="13.4">+ $mime</tspan><tspan x="10" dy="13.4">+ $command</tspan><tspan x="10" dy="13.4">+ $comment</tspan><tspan x="10" dy="13.4">+ $id_fields</tspan><tspan x="10" dy="13.4">+ $dbtable</tspan><tspan x="10" dy="13.4">+ $sqlcreate</tspan></text>
<text y="158.7"><tspan x="10">+ getNearEngine()</tspan></text></g>

<g id="VGroup" transform="translate(6211,559)"><rect class="b" width="104" height="140.8"/><path class="s" d="M0,25H104M0,116.4H104"/><text class="t" x="52" y="16">VGroup</text>
<text y="40.5"><tspan x="10">+ $fields</tspan><tspan x="10" dy="13.4">+ $id_fields</tspan><tspan x="10" dy="13.4">+ $dbtable</tspan><tspan x="10" dy="13.4">+ $order_by</tspan><tspan x="10" dy="13.4">+ $sqlcreate</tspan><tspan x="10" dy="13.4">+ $isCacheble</tspan></text>
<text y="131.9"><tspan x="10">+ PreInsert()</tspan></text></g>
</svg>
